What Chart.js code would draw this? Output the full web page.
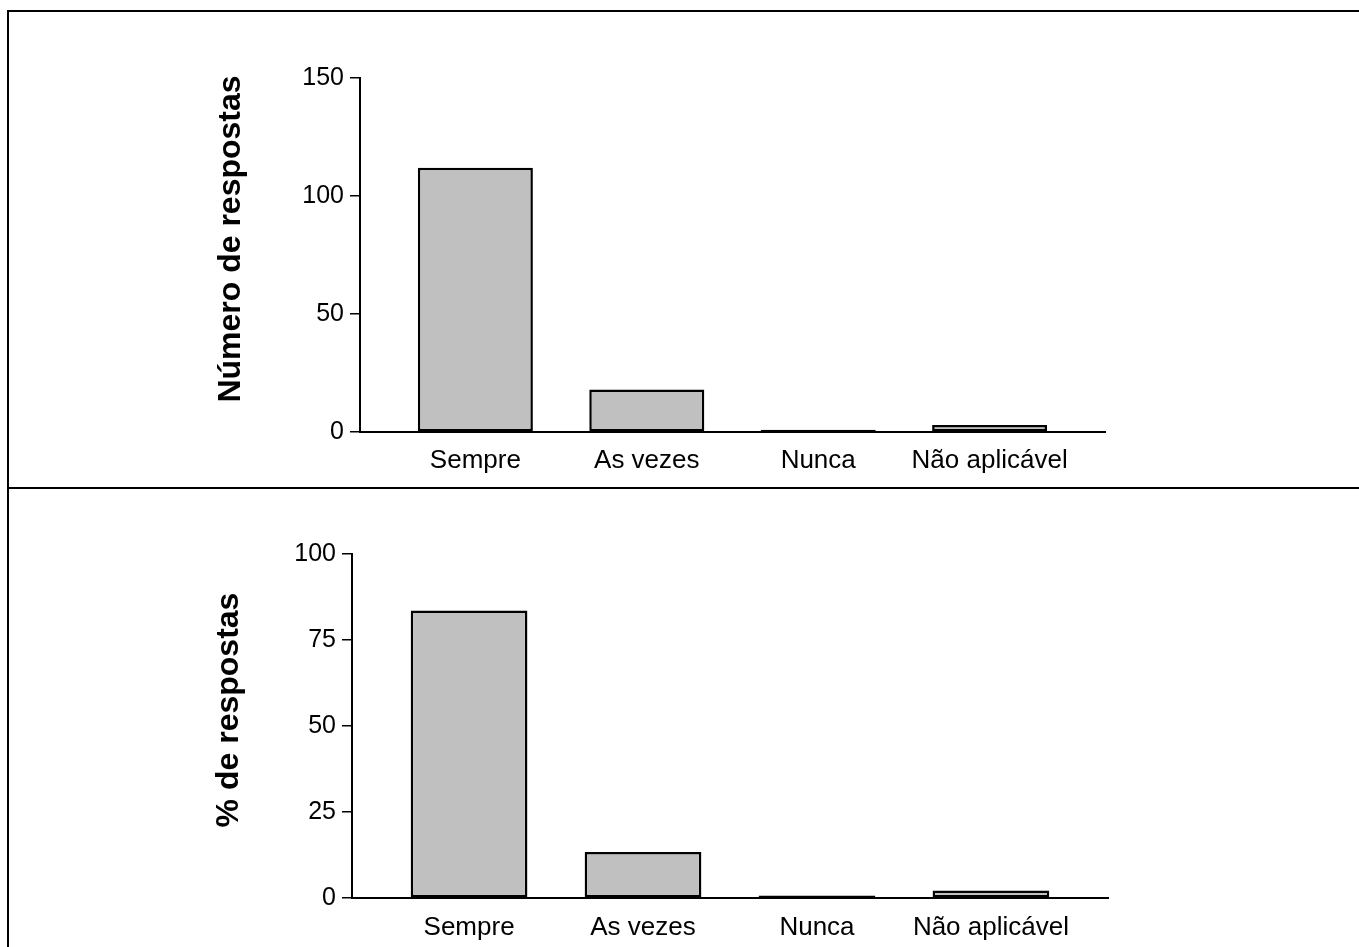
<!DOCTYPE html>
<html lang="pt-BR">
<head>
<meta charset="utf-8">
<title>Respostas</title>
<script src="https://cdn.jsdelivr.net/npm/chart.js@4.4.1/dist/chart.umd.min.js"></script>
<style>
    html, body { margin: 0; padding: 0; background: #fff; }
    body { width: 1359px; height: 947px; overflow: hidden; position: relative; }
    .moldura { position: absolute; left: 7px; top: 10px; width: 1500px; height: 1100px; border: 2px solid #000; box-sizing: border-box; }
    .divisoria { position: absolute; left: 7px; top: 487px; width: 1500px; height: 2px; background: #000; }
    .painel { position: absolute; left: 0; width: 1359px; }
    #painel-numero { top: 0; height: 487px; }
    #painel-pct { top: 489px; height: 458px; }
</style>
</head>
<body>
<div class="moldura"></div>
<div class="divisoria"></div>
<div class="painel" id="painel-numero"><canvas id="graficoNumero"></canvas></div>
<div class="painel" id="painel-pct"><canvas id="graficoPct"></canvas></div>

<script>
// --- DADOS ---
const CATEGORIAS = ['Sempre', 'As vezes', 'Nunca', 'Não aplicável'];
const NUMERO_RESPOSTAS = [112, 18, 1, 3];
const PCT_RESPOSTAS = [83.6, 13.4, 0.7, 2.2];
const TICKS_NUMERO = [0, 50, 100, 150];
const TICKS_PCT = [0, 25, 50, 75, 100];

// --- ESTILO ---
const FONTE = "'Liberation Sans', Arial, Helvetica, sans-serif";
const COR_BARRA = '#c0c0c0';
const MARGEM_X = 0.673; // folga antes da 1a e depois da ultima categoria

Chart.defaults.font.family = FONTE;
Chart.defaults.color = '#000';

// titulo do eixo Y desenhado a mao (o original fica um pouco acima do centro do eixo)
const tituloEixoY = {
    id: 'tituloEixoY',
    afterDraw(chart, args, opts) {
        const s = chart.scales.y;
        const ctx = chart.ctx;
        ctx.save();
        ctx.translate(s.left + opts.dx, (s.top + s.bottom) / 2 + opts.dy);
        ctx.rotate(-Math.PI / 2);
        ctx.font = `bold 32px ${FONTE}`;
        ctx.fillStyle = '#000';
        ctx.textAlign = 'center';
        ctx.textBaseline = 'middle';
        ctx.fillText(opts.texto, 0, 0);
        ctx.restore();
    }
};

function montarGrafico(canvasId, valores, ticksY, tituloY, layout) {
    const ctx = document.getElementById(canvasId).getContext('2d');
    return new Chart(ctx, {
        type: 'bar',
        data: {
            datasets: [{
                data: valores.map((v, i) => ({ x: i, y: v })),
                backgroundColor: COR_BARRA,
                borderColor: '#000',
                borderWidth: 2.5,
                borderSkipped: false,
                barPercentage: 0.671,
                categoryPercentage: 1
            }]
        },
        options: {
            responsive: true,
            maintainAspectRatio: false,
            animation: false,
            devicePixelRatio: 1,
            layout: { padding: layout.padding },
            plugins: {
                legend: { display: false },
                tooltip: { enabled: false },
                tituloEixoY: { texto: tituloY, dx: 19, dy: -16 }
            },
            scales: {
                x: {
                    type: 'linear',
                    offset: false,
                    min: -MARGEM_X,
                    max: CATEGORIAS.length - 1 + MARGEM_X,
                    afterBuildTicks: (scale) => { scale.ticks = CATEGORIAS.map((c, i) => ({ value: i })); },
                    afterFit: (scale) => { scale.height = layout.alturaX; },
                    grid: { display: false, offset: false },
                    border: { display: true, color: '#000', width: 2 },
                    ticks: {
                        autoSkip: false, maxRotation: 0, padding: layout.padX,
                        font: { size: 26 },
                        callback: (v) => CATEGORIAS[v]
                    }
                },
                y: {
                    min: ticksY[0],
                    max: ticksY[ticksY.length - 1],
                    afterBuildTicks: (scale) => { scale.ticks = ticksY.map(v => ({ value: v })); },
                    afterFit: (scale) => { scale.width = layout.larguraY; },
                    grid: { drawOnChartArea: false, drawTicks: true, tickLength: 10, color: '#000', lineWidth: 1.5 },
                    border: { display: true, color: '#000', width: 2 },
                    ticks: { padding: 6, font: { size: 25 } },
                    title: { display: false }
                }
            }
        },
        plugins: [tituloEixoY]
    });
}

// --- INICIALIZAÇÃO ---
document.addEventListener('DOMContentLoaded', () => {
    montarGrafico('graficoNumero', NUMERO_RESPOSTAS, TICKS_NUMERO, 'Número de respostas', {
        padding: { left: 212, right: 254, top: 78, bottom: 5 },
        larguraY: 148, alturaX: 50, padX: 5
    });
    montarGrafico('graficoPct', PCT_RESPOSTAS, TICKS_PCT, '% de respostas', {
        padding: { left: 210, right: 251, top: 65, bottom: 4 },
        larguraY: 142, alturaX: 45, padX: 6
    });
});
</script>
</body>
</html>
